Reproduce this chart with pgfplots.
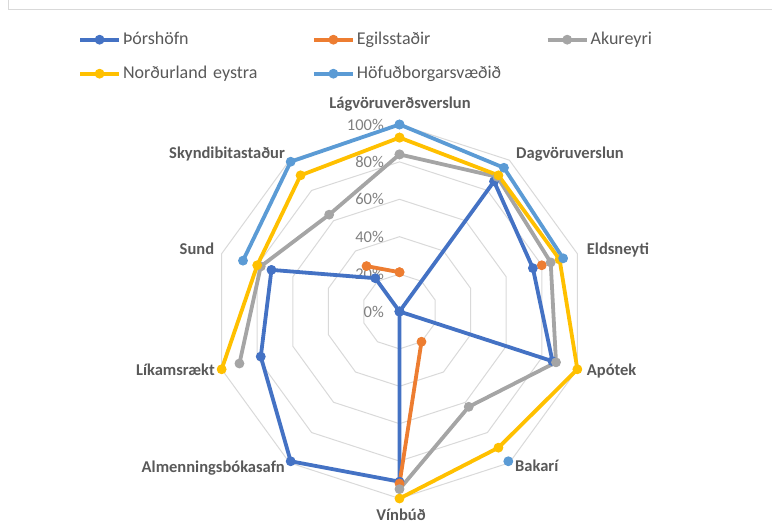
\documentclass[border=0pt]{standalone}
\usepackage{fontspec}
\setmainfont{Carlito}
\usepackage{pgfplots}
\pgfplotsset{compat=1.18}
\usepgfplotslibrary{polar}

\definecolor{cThor}{HTML}{4472C4}
\definecolor{cEgil}{HTML}{ED7D31}
\definecolor{cAku}{HTML}{A5A5A5}
\definecolor{cNE}{HTML}{FFC000}
\definecolor{cHof}{HTML}{5B9BD5}
\definecolor{cGrid}{HTML}{D9D9D9}
\definecolor{cTxt}{HTML}{595959}
\definecolor{cTick}{HTML}{808080}

\begin{document}
\begin{tikzpicture}[x=1bp,y=1bp,
  tl/.style={anchor=east, xshift=-15.5bp, inner sep=0pt, text=cTick,
    font=\fontsize{16.5bp}{18bp}\selectfont}]
\draw[cGrid, line width=1bp] (8,528) -- (8,518) -- (772,518);
\begin{polaraxis}[
  at={(399.5bp,216.5bp)}, anchor=center,
  scale only axis, width=374bp, height=374bp,
  ymin=0, ymax=100, hide axis, clip=false,
  unbounded coords=jump,
  series/.style={line width=3.8bp, line join=round, mark=*, mark size=4.4bp,
    mark options={solid, line width=1bp}},
  legend image code/.code={\draw[mark repeat=2,mark phase=2]
    plot coordinates {(0bp,0bp)(19.5bp,0bp)(39bp,0bp)};},
  legend columns=3,
  legend cell align=left,
  legend style={draw=none, fill=none, inner sep=0pt,
    at={(axis description cs:-0.3596,1.250)}, anchor=north west,
    row sep=17bp, font=\fontsize{18bp}{20bp}\selectfont, text=cTxt,
    nodes={inner sep=0pt, text height=13bp, text depth=4bp, text width=189bp},
    /tikz/every odd column/.append style={column sep=2bp}},
]
% decagon grid
\addplot[cGrid, line width=1bp, mark=none, forget plot] coordinates {(90,20)(54,20)(18,20)(-18,20)(-54,20)(-90,20)(-126,20)(-162,20)(-198,20)(-234,20)(-270,20)};
\addplot[cGrid, line width=1bp, mark=none, forget plot] coordinates {(90,40)(54,40)(18,40)(-18,40)(-54,40)(-90,40)(-126,40)(-162,40)(-198,40)(-234,40)(-270,40)};
\addplot[cGrid, line width=1bp, mark=none, forget plot] coordinates {(90,60)(54,60)(18,60)(-18,60)(-54,60)(-90,60)(-126,60)(-162,60)(-198,60)(-234,60)(-270,60)};
\addplot[cGrid, line width=1bp, mark=none, forget plot] coordinates {(90,80)(54,80)(18,80)(-18,80)(-54,80)(-90,80)(-126,80)(-162,80)(-198,80)(-234,80)(-270,80)};
\addplot[cGrid, line width=1bp, mark=none, forget plot] coordinates {(90,100)(54,100)(18,100)(-18,100)(-54,100)(-90,100)(-126,100)(-162,100)(-198,100)(-234,100)(-270,100)};
% value labels
\node[tl] at (axis cs:90,0) {0\%};
\node[tl] at (axis cs:90,20) {20\%};
\node[tl] at (axis cs:90,40) {40\%};
\node[tl] at (axis cs:90,60) {60\%};
\node[tl] at (axis cs:90,80) {80\%};
\node[tl] at (axis cs:90,100) {100\%};
% series: angle, share
\addplot[series, cThor] coordinates {(90,0)(54,86)(18,75)(-18,86)(-54,0)(-90,91)(-126,99)(-162,78)(-198,72)(-234,22)(-270,0)};
\addlegendentry{Þórshöfn}
\addplot[series, cEgil] coordinates {(90,21)(54,nan)(18,80)(-18,nan)(-54,20)(-90,92)(-126,nan)(-162,nan)(-198,nan)(-234,30)(-270,21)};
\addlegendentry{Egilsstaðir}
\addplot[series, cAku] coordinates {(90,84)(54,89)(18,85)(-18,88)(-54,63)(-90,95)(-126,nan)(-162,90)(-198,78)(-234,64)(-270,84)};
\addlegendentry{Akureyri}
\addplot[series, cNE] coordinates {(90,93)(54,90)(18,90)(-18,100)(-54,90)(-90,100)(-126,nan)(-162,100)(-198,80)(-234,90)(-270,93)};
\addlegendentry{Norðurland eystra}
\addplot[series, cHof] coordinates {(90,100)(54,95)(18,92)(-18,nan)(-54,99)(-90,nan)(-126,nan)(-162,nan)(-198,88)(-234,99)(-270,100)};
\addlegendentry{Höfuðborgarsvæðið}
\end{polaraxis}
% category labels
\begin{scope}[every node/.style={inner sep=0pt, text=cTxt, text height=12bp, text depth=2bp,
    font=\fontsize{16.5bp}{18bp}\selectfont\bfseries}]
\node[anchor=center] at (400,424) {Lágvöruverðsverslun};
\node[anchor=west] at (516,374.7) {Dagvöruverslun};
\node[anchor=west] at (586.7,278) {Eldsneyti};
\node[anchor=west] at (586.7,157) {Apótek};
\node[anchor=west] at (515,61) {Bakarí};
\node[anchor=center] at (401,12) {Vínbúð};
\node[anchor=east] at (285,60) {Almenningsbókasafn};
\node[anchor=east] at (215,157.3) {Líkamsrækt};
\node[anchor=east] at (214.3,278.7) {Sund};
\node[anchor=east] at (285,374.7) {Skyndibitastaður};
\end{scope}
\pgfresetboundingbox
\path[use as bounding box] (0,0) rectangle (772,528);
\end{tikzpicture}
\end{document}
